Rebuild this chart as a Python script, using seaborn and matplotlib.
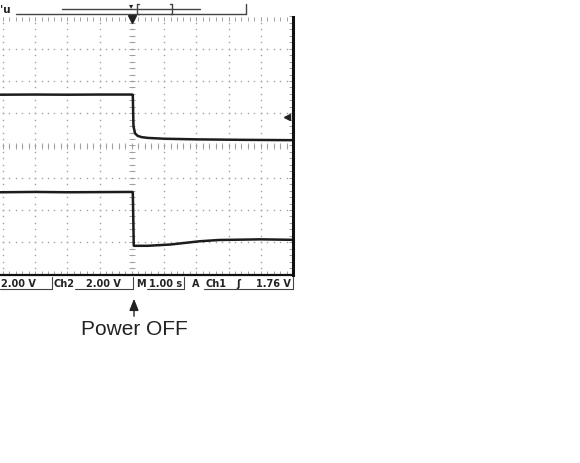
import numpy as np
import matplotlib
matplotlib.use("Agg")
import matplotlib.pyplot as plt
from matplotlib.lines import Line2D
from matplotlib.patches import FancyArrowPatch
import seaborn as sns

# time in seconds (1.00 s/div, trigger at t=0)
ch1_t = [-4.1, -3.0, -2.0, -1.0, 0.0, 0.03, 0.05, 0.1, 0.18, 0.3, 0.5, 1.0, 2.0, 3.5, 5.0]
ch1_v = [3.15, 3.16, 3.15, 3.16, 3.16, 3.14, 1.2, 0.75, 0.6, 0.52, 0.47, 0.42, 0.38, 0.35, 0.33]

ch2_t = [-4.1, -3.0, -2.0, -1.0, 0.0, 0.03, 0.06, 0.5, 1.2, 2.1, 2.7, 4.0, 5.0]
ch2_v = [5.1, 5.12, 5.1, 5.11, 5.12, 5.1, 1.78, 1.78, 1.86, 2.06, 2.14, 2.18, 2.15]

volts_per_div = 2.0
ch1_pos = 0.0    # ground position in divisions
ch2_pos = -4.0
trig_level = 1.76

status_texts = ["2.00 V", "Ch2", "2.00 V", "M", "1.00 s", "A", "Ch1", "ʃ", "1.76 V"]

W, H = 580, 464
sns.set_style("white")
fig = plt.figure(figsize=(W / 100, H / 100), dpi=100)

def fx(px):
    return px / W

def fy(py):
    return 1 - py / H

# screen area
left, right, top, bottom = 0, 293, 17.5, 275.5
ax = fig.add_axes([fx(left), fy(bottom), fx(right - left), (bottom - top) / H])

grat = "#a0a0a0"
# dotted graticule
dots = np.arange(-4, 4.01, 0.2)
hdots = np.arange(-5, 5.01, 0.2)
for gx in range(-4, 5):
    ax.plot([gx] * len(dots), dots, ls="none", marker="s", ms=1.0, mew=0, color=grat)
for gy in range(-3, 4):
    ax.plot(hdots, [gy] * len(hdots), ls="none", marker="s", ms=1.0, mew=0, color=grat)
# center lines with ticks
ax.plot([0] * len(dots), dots, ls="none", marker="_", ms=4, mew=0.7, color=grat)
ax.plot(hdots, [0] * len(hdots), ls="none", marker="|", ms=4, mew=0.7, color=grat)

# traces
y1 = [v / volts_per_div + ch1_pos for v in ch1_v]
y2 = [v / volts_per_div + ch2_pos for v in ch2_v]
sns.lineplot(x=ch1_t, y=y1, ax=ax, color="#1c1c1c", lw=1.8)
sns.lineplot(x=ch2_t, y=y2, ax=ax, color="#1c1c1c", lw=1.8)

# trigger markers
ax.plot(0, 3.93, marker="v", ms=6, color="#222", clip_on=False)
ax.plot(4.82, trig_level / volts_per_div + ch1_pos, marker="<", ms=5, color="#222", clip_on=False)

ax.set_xticks(np.arange(-5, 5.01, 0.2))
ax.set_yticks(np.arange(-4, 4.01, 0.2))
ax.set_xlim(-4.09, 5)
ax.set_ylim(-4, 4)
ax.tick_params(direction="in", length=3, width=0.7, color=grat,
               top=True, bottom=True, left=False, right=True,
               labelbottom=False, labelleft=False)
ax.set_xlabel("")
ax.set_ylabel("")
for s in ["left", "top"]:
    ax.spines[s].set_visible(False)
ax.spines["right"].set_linewidth(2.2)
ax.spines["right"].set_color("#111")
ax.spines["bottom"].set_linewidth(1.6)
ax.spines["bottom"].set_color("#111")

# top record bar
lc = "#444"
def seg(x0, y0, x1, y1, lw=1.0, c=lc):
    fig.add_artist(Line2D([fx(x0), fx(x1)], [fy(y0), fy(y1)], lw=lw, color=c))

seg(16, 15, 246, 15)
seg(246, 5, 246, 15)
seg(62, 10, 200, 10)
seg(137, 5, 137, 15)
seg(137, 5, 139, 5)
seg(137, 15, 139, 15)
seg(172, 5, 172, 15)
seg(170, 5, 172, 5)
seg(170, 15, 172, 15)
fig.text(fx(131), fy(6), "▾", ha="center", va="center", fontsize=6, color="#222")
fig.text(fx(0), fy(10), "'u", ha="left", va="center", fontsize=7.5, fontweight="bold", color="#222")

# status bar
fs = 7
sy = fy(284)
tk = dict(va="center", fontsize=fs, fontweight="bold", color="#222")
fig.text(fx(1), sy, status_texts[0], ha="left", **tk)
fig.text(fx(54), sy, status_texts[1], ha="left", **tk)
fig.text(fx(86), sy, status_texts[2], ha="left", **tk)
fig.text(fx(136), sy, status_texts[3], ha="left", **tk)
fig.text(fx(149), sy, status_texts[4], ha="left", **tk)
fig.text(fx(192), sy, status_texts[5], ha="left", **tk)
fig.text(fx(206), sy, status_texts[6], ha="left", **tk)
fig.text(fx(238), sy, status_texts[7], ha="center", **tk)
fig.text(fx(291), sy, status_texts[8], ha="right", **tk)

seg(0, 289.5, 52, 289.5, lw=0.8)
seg(52, 278, 52, 289.5, lw=0.8)
seg(75, 289.5, 133, 289.5, lw=0.8)
seg(133, 278, 133, 289.5, lw=0.8)
seg(147, 289.5, 184, 289.5, lw=0.8)
seg(184, 278, 184, 289.5, lw=0.8)
seg(204, 289.5, 293, 289.5, lw=0.8)
seg(293, 278, 293, 289.5, lw=0.8)

# annotation
fig.add_artist(FancyArrowPatch(
    (fx(134), fy(320)), (fx(134), fy(297)), transform=fig.transFigure,
    arrowstyle="-|>,head_length=7,head_width=2.8", lw=1.0, color="#222"))
fig.text(fx(134), fy(330), "Power OFF", ha="center", va="center",
         fontsize=15, family="Liberation Sans", color="#222")

fig.savefig("out.png", dpi=100)
